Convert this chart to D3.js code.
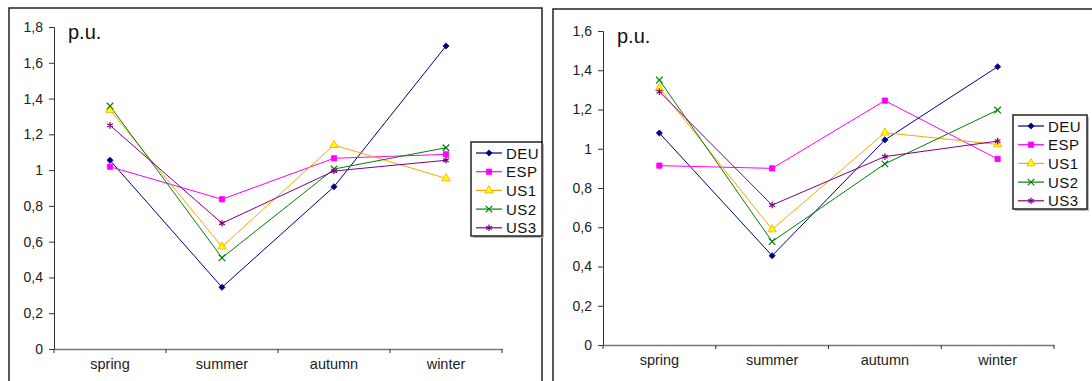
<!DOCTYPE html>
<html>
<head>
<meta charset="utf-8">
<script src="https://cdn.jsdelivr.net/npm/d3@7"></script>
<style>
  body { margin: 0; background: #fff; }
  svg { display: block; font-family: Arial, "Liberation Sans", sans-serif; }
</style>
</head>
<body>
<script>
/*--- data ---*/
let seasons = ["spring", "summer", "autumn", "winter"];
let seriesNames = ["DEU", "ESP", "US1", "US2", "US3"];

// left panel (p.u.)
let leftDEU = [1.055, 0.345, 0.907, 1.694];
let leftESP = [1.019, 0.837, 1.066, 1.088];
let leftUS1 = [1.336, 0.572, 1.140, 0.954];
let leftUS2 = [1.358, 0.510, 1.006, 1.125];
let leftUS3 = [1.250, 0.703, 0.995, 1.055];
let leftTicks = [0, 0.2, 0.4, 0.6, 0.8, 1, 1.2, 1.4, 1.6, 1.8];

// right panel (p.u.)
let rightDEU = [1.080, 0.455, 1.045, 1.418];
let rightESP = [0.914, 0.900, 1.245, 0.948];
let rightUS1 = [1.308, 0.589, 1.082, 1.022];
let rightUS2 = [1.350, 0.527, 0.923, 1.197];
let rightUS3 = [1.291, 0.713, 0.960, 1.039];
let rightTicks = [0, 0.2, 0.4, 0.6, 0.8, 1, 1.2, 1.4, 1.6];

/*--- styles per series ---*/
let estilo = {
  DEU: {color: "#000080", fill: "#000080", sym: d3.symbolDiamond2, size: 24},
  ESP: {color: "#FF00FF", fill: "#FF00FF", sym: d3.symbolSquare, size: 28},
  US1: {color: "#FFA500", fill: "#FFFF00", sym: d3.symbolTriangle, size: 30},
  US2: {color: "#008000", fill: "none", sym: d3.symbolTimes, size: 30},
  US3: {color: "#800080", fill: "none", sym: d3.symbolAsterisk, size: 30}
};

let svg = d3.select("body").append("svg")
  .attr("width", 1092)
  .attr("height", 381);

function fmt(d) {
  return d === Math.round(d) ? String(d) : d.toFixed(1).replace(".", ",");
}

function panel(cfg) {
  // frame
  svg.append("rect")
    .attr("x", cfg.frame[0]).attr("y", cfg.frame[1])
    .attr("width", cfg.frame[2]).attr("height", cfg.frame[3])
    .attr("fill", "none").attr("stroke", "#222").attr("stroke-width", 1.5);

  let X = d3.scaleBand().domain(seasons).range([cfg.x0, cfg.x1]);
  let Y = d3.scaleLinear().domain([0, cfg.max]).range([cfg.y0, cfg.y1]);

  let g = svg.append("g");

  // y axis
  let yEje = d3.axisLeft(Y).tickValues(cfg.ticks).tickFormat(fmt).tickSize(5).tickPadding(6);
  let ya = g.append("g").attr("transform", "translate(" + cfg.x0 + ",0)").call(yEje);
  ya.select(".domain").attr("stroke", "#333");
  ya.selectAll(".tick line").attr("stroke", "#333");
  ya.selectAll("text").attr("font-size", 14).attr("fill", "#222")
    .attr("font-family", "Arial, 'Liberation Sans', sans-serif");

  // x axis
  let xEje = d3.axisBottom(X).tickSize(0).tickPadding(10);
  let xa = g.append("g").attr("transform", "translate(0," + cfg.y0 + ")").call(xEje);
  xa.select(".domain").attr("stroke", "#777").attr("stroke-width", 1.5);
  xa.selectAll("text").attr("font-size", 14.5).attr("fill", "#222")
    .attr("font-family", "Arial, 'Liberation Sans', sans-serif");
  // ticks between categories
  let bordes = seasons.map(s => X(s)).concat([cfg.x1]);
  xa.selectAll(".sep").data(bordes).join("line")
    .attr("class", "sep")
    .attr("x1", d => d).attr("x2", d => d)
    .attr("y1", 0).attr("y2", 4)
    .attr("stroke", "#333");

  // p.u. label
  g.append("text")
    .attr("x", cfg.x0 + 14).attr("y", cfg.y1 + 12)
    .attr("font-size", 20).attr("fill", "#111")
    .text("p.u.");

  let cx = s => X(s) + X.bandwidth() / 2;

  // lines
  seriesNames.forEach(function(n, i) {
    let vals = cfg.data[i];
    let st = estilo[n];
    let linea = d3.line().x((d, j) => cx(seasons[j])).y(d => Y(d));
    g.append("path")
      .datum(vals)
      .attr("fill", "none")
      .attr("stroke", st.color)
      .attr("stroke-width", 1)
      .attr("d", linea);
  });

  // markers
  seriesNames.forEach(function(n, i) {
    let vals = cfg.data[i];
    let st = estilo[n];
    g.selectAll(".m" + n).data(vals).join("path")
      .attr("transform", (d, j) => "translate(" + cx(seasons[j]) + "," + Y(d) + ")")
      .attr("d", d3.symbol(st.sym, st.size))
      .attr("fill", st.fill)
      .attr("stroke", st.color)
      .attr("stroke-width", st.fill === "none" ? 1.2 : 0.8);
  });

  // legend
  let lg = svg.append("g").attr("transform", "translate(" + cfg.leg[0] + "," + cfg.leg[1] + ")");
  lg.append("rect")
    .attr("x", 2).attr("y", 2)
    .attr("width", cfg.leg[2]).attr("height", 94)
    .attr("fill", "#bbb");
  lg.append("rect")
    .attr("width", cfg.leg[2]).attr("height", 94)
    .attr("fill", "#fff").attr("stroke", "#222").attr("stroke-width", 1.5);
  seriesNames.forEach(function(n, i) {
    let st = estilo[n];
    let yy = 11 + i * 18.7;
    lg.append("line")
      .attr("x1", 5).attr("x2", 31).attr("y1", yy).attr("y2", yy)
      .attr("stroke", st.color).attr("stroke-width", 1.2);
    lg.append("path")
      .attr("transform", "translate(18," + yy + ")")
      .attr("d", d3.symbol(st.sym, st.size))
      .attr("fill", st.fill)
      .attr("stroke", st.color)
      .attr("stroke-width", st.fill === "none" ? 1.2 : 0.8);
    lg.append("text")
      .attr("x", 35).attr("y", yy + 5.5)
      .attr("font-size", 15).attr("letter-spacing", 0.5).attr("fill", "#111")
      .text(n);
  });
}

panel({
  frame: [9, 8, 533, 390],
  x0: 54, x1: 502, y0: 349, y1: 27, max: 1.8,
  ticks: leftTicks,
  data: [leftDEU, leftESP, leftUS1, leftUS2, leftUS3],
  leg: [471, 142, 71]
});

panel({
  frame: [553, 9, 560, 390],
  x0: 603, x1: 1054, y0: 345, y1: 31, max: 1.6,
  ticks: rightTicks,
  data: [rightDEU, rightESP, rightUS1, rightUS2, rightUS3],
  leg: [1013, 115, 74]
});
</script>
</body>
</html>
